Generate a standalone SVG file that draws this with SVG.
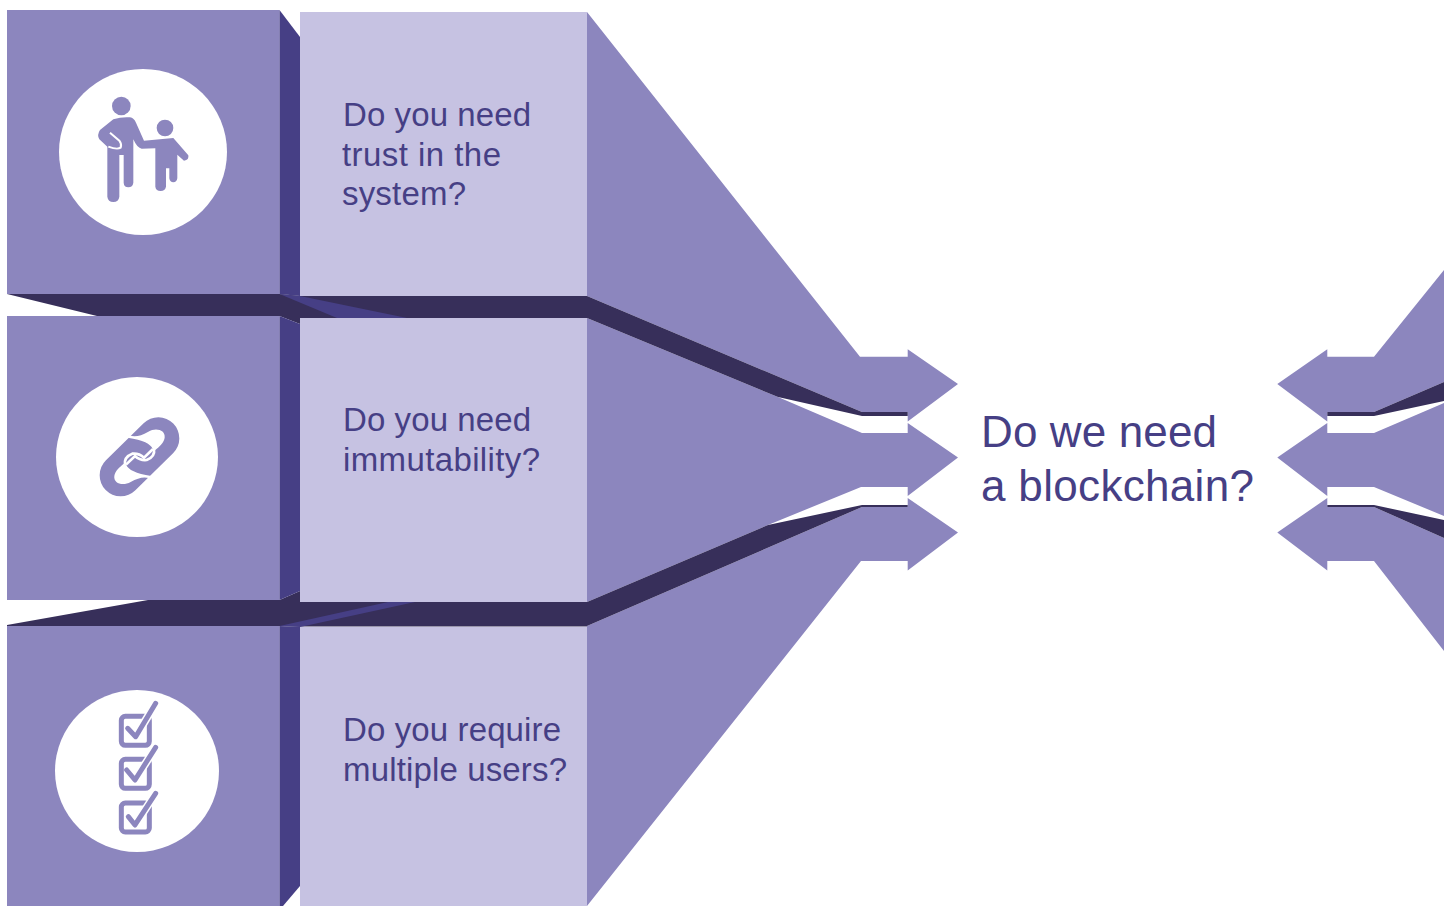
<svg xmlns="http://www.w3.org/2000/svg" width="1444" height="906" viewBox="0 0 1444 906">
<style>
.m{fill:#8c86be}.s{fill:#463f85}.d{fill:#372f5a}.l{fill:#c6c2e2}.c{fill:#fff}
text{font-family:"Liberation Sans",Arial,sans-serif;fill:#463f85}
.q{font-size:33px}.b{font-size:44px}
.ic{fill:none;stroke:#8c86be;stroke-linecap:round;stroke-linejoin:round}
.h{fill:none;stroke:#fff;stroke-linecap:butt}
</style>
<defs>
<g id="link-half">
<path class="c" d="M143 113L148 106C165 112 182 108 205 95C228 82 257 90 254 113C252 128 238 140 226 150L218 146C212 132 190 120 143 113Z"/>
<path class="h" stroke-width="8" d="M222 146Q226 170 200 180Q180 182 165 168L138 194"/>
</g>
</defs>
<rect width="1444" height="906" fill="#fff"/>
<g id="connectors">
<polygon class="m" points="587,12 860,356.7 907.7,356.7 907.7,349.3 958,384 907.7,421.5 907.7,412 862,412 587,296"/>
<polygon class="m" points="587,318 778,397 862,433 907.7,433 907.7,423 958,457.5 907.7,496 907.7,487 861,487 768,525 587,602"/>
<polygon class="m" points="587,626 862,507 907.7,507 907.7,498 958,532.5 907.7,570.5 907.7,561 861,561 587,906"/>
<polygon class="d" points="587,296 862,412 907.7,412 907.7,416 862,416 778,397 587,318"/>
<polygon class="d" points="587,602 768,525 862,505 907.7,505 907.7,507 862,507 587,626"/>
<polygon class="m" points="1444,270 1374,356.7 1327.3,356.7 1327.3,349.3 1277.3,384 1327.3,421.5 1327.3,412 1374,412 1444,382"/>
<polygon class="m" points="1444,403 1374,433 1327.3,433 1327.3,423 1277.3,457.5 1327.3,496 1327.3,487 1374,487 1444,516"/>
<polygon class="m" points="1444,538 1374,507 1327.3,507 1327.3,498 1277.3,532.5 1327.3,570.5 1327.3,561 1374,561 1444,651"/>
<polygon class="d" points="1374,412 1444,382 1444,401 1374,416 1327.3,416 1327.3,412"/>
<polygon class="d" points="1374,505 1444,520 1444,538 1374,507 1327.3,507 1327.3,505"/>
<polygon class="d" points="7,294 279.5,294 300,296 587,296 587,318 300,318 300,324 279.5,316 97,316"/>
<polygon class="s" points="279.5,294 300,296 407,318 337,318"/>
<polygon class="d" points="7,625 148,600 279.5,600 300,591 300,602 587,602 587,626.5 300,626.5 279.5,626 7,626"/>
<polygon class="s" points="279.5,626 388,602 415,602 300,627"/>
</g>
<g id="node-trust">
<rect class="m" x="7" y="10" width="272.5" height="284"/>
<polygon class="s" points="279.5,10 300,37 300,296 279.5,294"/>
<rect class="l" x="300" y="12" width="287" height="284"/>
<ellipse class="c" cx="143" cy="152" rx="84" ry="83"/>
<g transform="translate(80 80) scale(.3333)">
<circle class="m" cx="124" cy="78" r="28"/>
<circle class="m" cx="255" cy="144" r="25"/>
<path class="m" d="M100 118Q125 110 150 112Q162 114 168 128L192 182L280 174L325 226Q328 240 312 242L292 224L292 295Q290 307 280 307Q270 307 268 295L268 265L258 265L258 320Q255 333 242 333Q228 333 226 320L226 205L185 206Q172 205 160 178L160 308Q158 322 145 322Q132 322 131 308L131 225L118 225L118 350Q116 366 100 366Q84 366 82 350L82 200L58 178Q50 165 60 150Z"/>
<path class="h" stroke-width="6" d="M90 158L118 182Q126 192 122 203Q112 210 85 200"/>
</g>
<text class="q" x="343" y="126" textLength="188">Do you need</text>
<text class="q" x="342" y="166" textLength="159">trust in the</text>
<text class="q" x="342" y="205" textLength="124">system?</text>
</g>
<g id="node-immutability">
<rect class="m" x="7" y="316" width="272.5" height="284"/>
<polygon class="s" points="279.5,316 300,324 300,591 279.5,600"/>
<rect class="l" x="300" y="318" width="287" height="284"/>
<ellipse class="c" cx="137" cy="457" rx="81" ry="80"/>
<g transform="translate(80 400) scale(.3333)">
<path class="ic" stroke-width="126" d="M122 226L235 115"/>
<use href="#link-half"/>
<use href="#link-half" transform="rotate(180 178.5 170.5)"/>
</g>
<text class="q" x="343" y="431" textLength="188">Do you need</text>
<text class="q" x="343" y="471" textLength="197">immutability?</text>
</g>
<g id="node-users">
<rect class="m" x="7" y="626" width="272.5" height="280"/>
<polygon class="s" points="279.5,626 300,627 300,886 283,906 279.5,906"/>
<rect class="l" x="300" y="627" width="287" height="279"/>
<ellipse class="c" cx="137" cy="771" rx="82" ry="81"/>
<g transform="translate(95 690) scale(.3333)">
<rect class="ic" x="79" y="79" width="84" height="87" rx="12" stroke-width="15"/>
<path class="h" stroke-width="24" d="M122 140L182 40"/>
<path class="ic" stroke-width="15" d="M98 115L122 140L182 40"/>
<rect class="ic" x="79" y="208" width="84" height="87" rx="12" stroke-width="15"/>
<path class="h" stroke-width="24" d="M120 270L182 172"/>
<path class="ic" stroke-width="15" d="M95 240L120 270L182 172"/>
<rect class="ic" x="79" y="339" width="84" height="87" rx="12" stroke-width="15"/>
<path class="h" stroke-width="24" d="M120 405L182 310"/>
<path class="ic" stroke-width="15" d="M100 380L120 405L182 310"/>
</g>
<text class="q" x="343" y="741" textLength="218">Do you require</text>
<text class="q" x="343" y="781" textLength="224">multiple users?</text>
</g>
<g id="node-blockchain">
<text class="b" x="981" y="447" textLength="236">Do we need</text>
<text class="b" x="981" y="501" textLength="273">a blockchain?</text>
</g>
</svg>
